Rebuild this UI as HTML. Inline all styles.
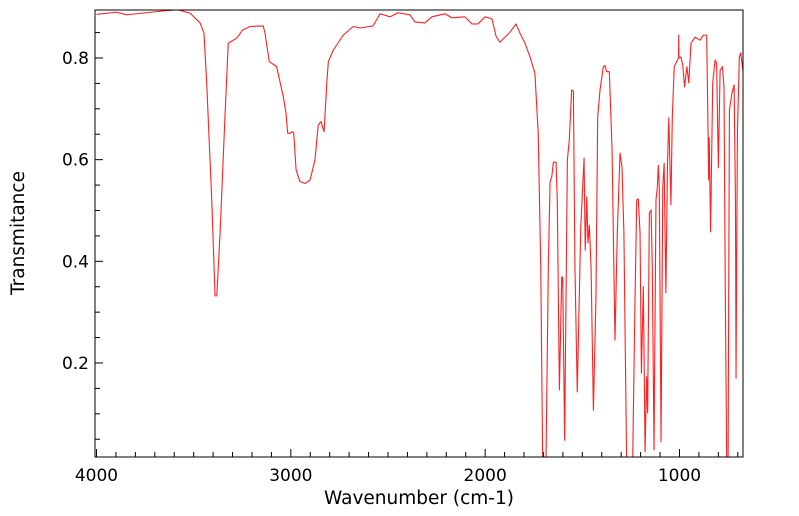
<!DOCTYPE html>
<html><head><meta charset="utf-8"><style>
body{margin:0;background:#fff;}
svg{display:block;font-family:"DejaVu Sans","Liberation Sans",sans-serif;}
</style></head><body>
<svg id="chart" width="799" height="516">
<defs><clipPath id="clip"><rect x="95" y="10" width="648" height="447"/></clipPath></defs>
<g id="ticks"></g>
<g id="labels"></g>
<path id="spectrum" clip-path="url(#clip)" fill="none" stroke="#ff2020" stroke-width="1.1" stroke-linejoin="round"/>
<rect x="95" y="10" width="648" height="447" fill="none" stroke="#000" stroke-width="1"/>
<text x="419" y="504" font-size="18.5" text-anchor="middle">Wavenumber (cm-1)</text>
<text x="24" y="233" font-size="18.5" text-anchor="middle" transform="rotate(-90 24 233)">Transmitance</text>
</svg>
<script>
const wavenumbers=[4000,3896,3845,3673,3581,3518,3467,3447,3433,3407,3390,3381,3364,3339,3322,3279,3248,3210,3142,3133,3111,3073,3039,3025,3016,3004,2990,2985,2973,2953,2927,2901,2876,2859,2845,2829,2815,2807,2781,2730,2679,2644,2577,2541,2490,2449,2387,2361,2310,2274,2207,2171,2104,2068,2037,2001,1965,1944,1924,1872,1841,1821,1795,1769,1744,1727,1714,1704,1687,1675,1666,1657,1649,1635,1629,1618,1606,1601,1591,1577,1567,1555,1546,1538,1526,1516,1508,1491,1485,1477,1471,1464,1455,1443,1430,1421,1409,1392,1383,1375,1361,1347,1332,1320,1306,1296,1286,1272,1241,1229,1220,1212,1203,1196,1186,1177,1169,1164,1155,1146,1140,1131,1121,1114,1109,1104,1095,1086,1079,1070,1062,1055,1044,1037,1027,1014,1005,1004,1003,993,983,974,962,952,941,920,894,877,860,853,850,847,840,829,817,809,800,791,779,771,764,757,750,743,730,719,712,709,702,692,685,674];
const transmittance=[0.886,0.890,0.885,0.892,0.895,0.888,0.869,0.849,0.751,0.521,0.332,0.332,0.456,0.684,0.829,0.839,0.855,0.862,0.863,0.849,0.793,0.783,0.724,0.692,0.652,0.652,0.655,0.652,0.580,0.557,0.553,0.560,0.599,0.668,0.675,0.655,0.750,0.793,0.816,0.845,0.862,0.859,0.863,0.887,0.881,0.889,0.885,0.871,0.869,0.881,0.887,0.879,0.881,0.867,0.867,0.881,0.877,0.843,0.831,0.851,0.867,0.849,0.829,0.802,0.770,0.652,0.389,0.005,0.005,0.389,0.556,0.567,0.595,0.595,0.521,0.147,0.369,0.369,0.048,0.599,0.639,0.737,0.735,0.389,0.143,0.324,0.468,0.603,0.422,0.527,0.436,0.471,0.389,0.107,0.324,0.684,0.737,0.783,0.785,0.773,0.773,0.619,0.245,0.456,0.613,0.586,0.456,0.005,0.005,0.324,0.521,0.523,0.456,0.180,0.350,0.025,0.173,0.102,0.495,0.501,0.389,0.029,0.521,0.546,0.589,0.546,0.045,0.546,0.593,0.338,0.586,0.682,0.511,0.684,0.783,0.793,0.800,0.845,0.800,0.802,0.786,0.743,0.783,0.751,0.829,0.841,0.835,0.845,0.845,0.652,0.560,0.643,0.458,0.751,0.796,0.790,0.584,0.776,0.783,0.743,0.324,0.005,0.005,0.698,0.731,0.747,0.521,0.170,0.652,0.802,0.810,0.776];
const xTickLabels=[4000,3000,2000,1000];
const yTickLabels=[0.2,0.4,0.6,0.8];
const NS='http://www.w3.org/2000/svg';
function xs(w){return 96.5+(4000-w)*0.19433;}
function ys(t){return 58+(0.8-t)*508.3;}
let d='';
for(let i=0;i<wavenumbers.length;i++){d+=(i?'L':'M')+xs(wavenumbers[i]).toFixed(2)+' '+ys(transmittance[i]).toFixed(2);}
document.getElementById('spectrum').setAttribute('d',d);
const tg=document.getElementById('ticks'),lg=document.getElementById('labels');
function line(x1,y1,x2,y2,name){const l=document.createElementNS(NS,'line');
l.setAttribute('x1',x1);l.setAttribute('y1',y1);l.setAttribute('x2',x2);l.setAttribute('y2',y2);
l.setAttribute('stroke','#000');l.setAttribute('stroke-width','1');


tg.appendChild(l);}
for(let w=4000;w>=700;w-=100){const x=xs(w),maj=(w%1000===0);line(x,457,x,457-(maj?8:5),maj?'x-major-tick':'x-minor-tick');}
for(let t=0.05;t<0.9;t+=0.05){const y=ys(t);if(y<10||y>457)continue;const maj=Math.abs(t*10-Math.round(t*10))<1e-6&&Math.round(t*10)%2===0;line(95,y,95+(maj?8:5),y,maj?'y-major-tick':'y-minor-tick');}
xTickLabels.forEach(v=>{const t=document.createElementNS(NS,'text');t.setAttribute('x',xs(v));t.setAttribute('y',481);t.setAttribute('font-size','17');t.setAttribute('text-anchor','middle');t.textContent=v;


lg.appendChild(t);});
yTickLabels.forEach(v=>{const t=document.createElementNS(NS,'text');t.setAttribute('x',89);t.setAttribute('y',ys(v)+6);t.setAttribute('font-size','17');t.setAttribute('text-anchor','end');t.textContent=v.toFixed(1);


lg.appendChild(t);});
</script>
</body></html>
